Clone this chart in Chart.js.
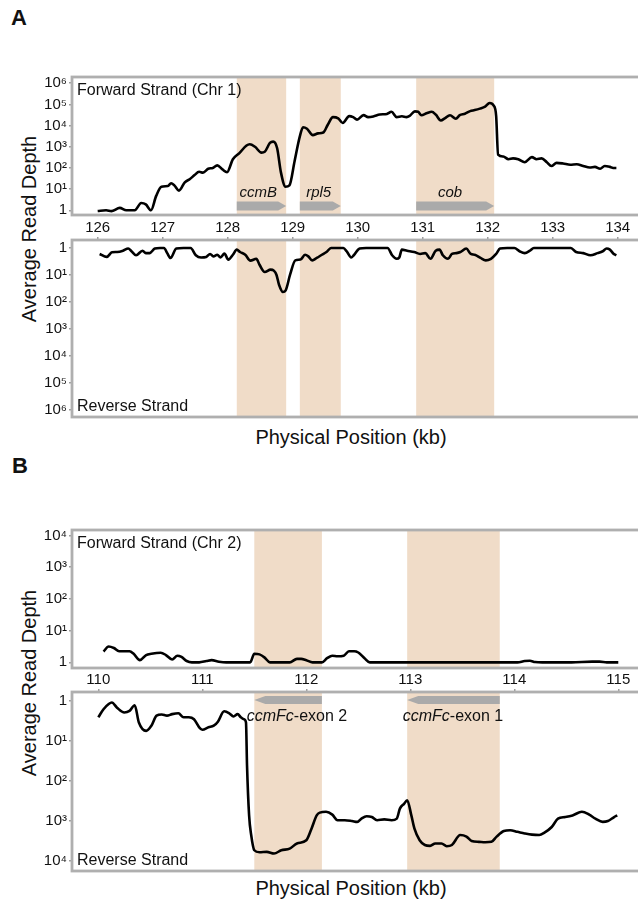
<!DOCTYPE html>
<html>
<head>
<meta charset="utf-8">
<script src="https://cdn.jsdelivr.net/npm/chart.js@4.4.1/dist/chart.umd.min.js"></script>
<style>
  html, body { margin: 0; padding: 0; background: #fff; }
  body { width: 638px; height: 903px; position: relative; overflow: hidden;
         font-family: "Liberation Sans", Arial, Helvetica, sans-serif; color: #111; }
  canvas { position: absolute; left: 0; }
  .letter { position: absolute; font-weight: bold; font-size: 22px; line-height: 22px; }
  .title { position: absolute; font-size: 20px; line-height: 20px; white-space: nowrap;
           transform: translate(-50%, -50%); }
  .title.vert { transform: translate(-50%, -50%) rotate(-90deg); }
</style>
</head>
<body>
<div class="letter" style="left:11px;top:7px">A</div>
<div class="letter" style="left:12px;top:455px">B</div>
<div class="title vert" style="left:29px;top:229px">Average Read Depth</div>
<div class="title vert" style="left:29px;top:683px">Average Read Depth</div>
<div class="title" style="left:351px;top:437px">Physical Position (kb)</div>
<div class="title" style="left:351px;top:888px">Physical Position (kb)</div>

<canvas id="fwdA" width="660" height="215" style="top:20px"></canvas>
<canvas id="revA" width="660" height="240" style="top:200px"></canvas>
<canvas id="fwdB" width="660" height="220" style="top:470px"></canvas>
<canvas id="revB" width="660" height="243" style="top:652px"></canvas>

<script>
// ---- Chr 1 window (126-134 kb) ----
const kbFwdA = [126.00, 126.13, 126.21, 126.34, 126.44, 126.57, 126.67, 126.74, 126.82, 126.90,
  126.98, 127.08, 127.13, 127.18, 127.25, 127.34, 127.42, 127.49, 127.56, 127.62,
  127.70, 127.77, 127.84, 127.92, 127.99, 128.08, 128.18, 128.29, 128.34, 128.42,
  128.52, 128.57, 128.65, 128.70, 128.76, 128.82, 128.89, 128.95, 129.03, 129.11,
  129.16, 129.22, 129.31, 129.39, 129.47, 129.54, 129.62, 129.70, 129.77, 129.87,
  129.93, 129.99, 130.09, 130.16, 130.24, 130.34, 130.45, 130.52, 130.60, 130.68,
  130.75, 130.80, 130.88, 130.93, 130.98, 131.06, 131.14, 131.20, 131.28, 131.34,
  131.42, 131.51, 131.57, 131.65, 131.73, 131.80, 131.88, 131.96, 132.03, 132.09,
  132.13, 132.16, 132.24, 132.32, 132.39, 132.47, 132.57, 132.68, 132.75, 132.83,
  132.91, 132.98, 133.06, 133.16, 133.27, 133.37, 133.47, 133.57, 133.65, 133.73,
  133.80, 133.88, 133.93, 133.98];
const depthFwdA = [0.93, 1.0, 0.91, 1.3, 1.0, 1.0, 2.2, 1.9, 1.0, 4.8,
  13, 14, 19, 15, 8.5, 21, 30, 46, 66, 60,
  91, 100, 132, 85, 63, 257, 500, 1150, 1320, 1000,
  525, 575, 1510, 1740, 870, 60, 13, 15, 214, 3090,
  8300, 7100, 3550, 4270, 4680, 11000, 25100, 21900, 13200, 28000,
  25100, 19000, 31000, 25100, 26900, 33100, 35500, 44700, 25100, 27500,
  25100, 28800, 46800, 44700, 30900, 38000, 44700, 33100, 17400, 21900,
  30900, 20900, 30900, 36300, 47900, 53700, 63100, 77600, 117000, 89000,
  28800, 427, 347, 257, 282, 257, 186, 324, 257, 282,
  186, 123, 174, 162, 141, 148, 123, 105, 112, 91,
  123, 112, 100, 100];

const kbRevA = [126.03, 126.14, 126.22, 126.30, 126.39, 126.47, 126.52, 126.59, 126.69, 126.74,
  126.80, 126.88, 126.96, 127.02, 127.07, 127.12, 127.21, 127.32, 127.43, 127.51,
  127.59, 127.67, 127.73, 127.78, 127.84, 127.89, 127.95, 128.01, 128.08, 128.14,
  128.19, 128.27, 128.35, 128.44, 128.49, 128.57, 128.66, 128.71, 128.75, 128.79,
  128.85, 128.89, 128.96, 129.04, 129.12, 129.19, 129.24, 129.30, 129.37, 129.45,
  129.52, 129.59, 129.67, 129.78, 129.83, 129.90, 129.94, 130.03, 130.13, 130.27,
  130.38, 130.46, 130.53, 130.60, 130.64, 130.68, 130.76, 130.87, 130.96, 131.04,
  131.12, 131.20, 131.26, 131.31, 131.39, 131.45, 131.52, 131.58, 131.67, 131.74,
  131.80, 131.89, 131.97, 132.05, 132.13, 132.19, 132.30, 132.41, 132.49, 132.57,
  132.65, 132.71, 132.84, 132.98, 133.17, 133.28, 133.36, 133.47, 133.58, 133.69,
  133.77, 133.83, 133.88, 133.94, 133.98];
const depthRevA = [1.66, 2.14, 1.45, 1.41, 1.26, 1.05, 1.32, 1.86, 1.26, 1.55,
  1.55, 1.05, 1, 1, 1.55, 2.34, 1.05, 1, 1, 1.86,
  2.24, 2.14, 1.66, 2.04, 1.78, 2.24, 1.62, 2.69, 1.78, 1.15,
  1.41, 1.78, 2.95, 2.51, 4.17, 7.76, 6.31, 6.92, 9.77, 22.9,
  42.7, 38.0, 9.77, 2.88, 2.69, 1.78, 2.04, 2.88, 2.34, 1.78,
  1.41, 1, 1, 1, 1.32, 2.24, 1.86, 1.05, 1, 1,
  1, 1, 1.86, 2.51, 2.24, 1.15, 1.26, 1.41, 1.66, 1.55,
  2.51, 1.26, 1.15, 1.86, 2.51, 1.66, 1.55, 1.41, 1.05, 1.66,
  1.78, 2.34, 2.88, 2.51, 1.66, 1.05, 1, 1, 1.32, 1.55,
  1.26, 1, 1, 1, 1, 1, 1.41, 1.55, 1.86, 1.55,
  1.32, 1.05, 1.15, 1.66, 1.86];

const kbTicksA = [126, 127, 128, 129, 130, 131, 132, 133, 134];
const decadesA = [1, 10, 100, 1e3, 1e4, 1e5, 1e6];
const genesA = ['ccmB', 'rpl5', 'cob'];
const geneStartA = [128.14, 129.11, 130.90];
const geneEndA = [128.90, 129.74, 132.10];
const geneLabelA = [128.47, 129.40, 131.42];

// ---- Chr 2 window (110-115 kb) ----
const kbFwdB = [110.05, 110.10, 110.15, 110.20, 110.25, 110.30, 110.34, 110.40, 110.46, 110.51,
  110.60, 110.65, 110.71, 110.76, 110.80, 110.85, 110.90, 110.97, 111.04, 111.09,
  111.16, 111.23, 111.33, 111.46, 111.50, 111.55, 111.60, 111.65, 111.72, 111.84,
  111.91, 111.95, 112.00, 112.06, 112.15, 112.20, 112.25, 112.30, 112.36, 112.41,
  112.46, 112.50, 112.56, 112.61, 113.00, 113.50, 114.03, 114.10, 114.15, 114.20,
  114.27, 114.55, 114.75, 114.82, 114.89, 115.00];
const depthFwdB = [2.19, 3.16, 2.82, 2.24, 2.24, 2.24, 1.86, 1.17, 1.70, 1.86,
  2.0, 1.70, 1.23, 1.62, 1.48, 1.10, 1, 1, 1.10, 1.17,
  1.05, 1, 1, 1, 1.86, 1.78, 1.41, 1, 1, 1,
  1.29, 1.29, 1.17, 1, 1, 1.35, 1.62, 1.55, 1.62, 2.24,
  2.24, 2.04, 1.35, 1, 1, 1, 1, 1.10, 1.12, 1.02,
  1, 1, 1.05, 1.05, 1, 1];

const kbRevB = [110.00, 110.05, 110.10, 110.13, 110.18, 110.25, 110.30, 110.35, 110.39, 110.46,
  110.51, 110.56, 110.61, 110.66, 110.71, 110.77, 110.82, 110.87, 110.92, 110.97,
  111.00, 111.06, 111.11, 111.15, 111.21, 111.26, 111.30, 111.34, 111.37, 111.40,
  111.42, 111.43, 111.45, 111.47, 111.50, 111.55, 111.62, 111.69, 111.76, 111.84,
  111.91, 112.00, 112.05, 112.10, 112.13, 112.19, 112.25, 112.30, 112.37, 112.44,
  112.49, 112.53, 112.58, 112.63, 112.68, 112.75, 112.82, 112.87, 112.90, 112.94,
  112.97, 113.01, 113.04, 113.09, 113.14, 113.19, 113.24, 113.30, 113.35, 113.40,
  113.48, 113.54, 113.59, 113.66, 113.72, 113.78, 113.83, 113.90, 113.96, 114.03,
  114.10, 114.17, 114.24, 114.29, 114.36, 114.42, 114.49, 114.56, 114.65, 114.72,
  114.78, 114.85, 114.90, 114.96, 114.99];
const depthRevB = [2.57, 1.62, 1.20, 1.10, 1.48, 1.95, 1.78, 1.29, 3.47, 5.62,
  4.17, 2.34, 2.19, 2.34, 2.14, 2.04, 2.57, 2.57, 2.88, 4.57,
  5.25, 4.57, 4.17, 3.31, 1.82, 2.04, 2.45, 2.14, 2.57, 2.88,
  3.47, 40.7, 724, 2240, 5370, 6030, 5890, 6460, 5370, 4900,
  3630, 3020, 1550, 724, 617, 589, 692, 955, 955, 1000,
  1050, 871, 759, 794, 955, 912, 955, 871, 490, 372,
  302, 724, 1550, 3020, 3980, 4170, 3630, 3630, 4270, 3980,
  2240, 2450, 3160, 3310, 3390, 3310, 2450, 1780, 1700, 1860,
  2040, 2190, 2240, 1950, 1410, 871, 794, 724, 589, 692,
  871, 1050, 1000, 794, 724];

const kbTicksB = [110, 111, 112, 113, 114, 115];
const decadesB = [1, 10, 100, 1e3, 1e4];
const genesB = ['ccmFc-exon 2', 'ccmFc-exon 1'];
const geneStartB = [111.50, 112.97];
const geneEndB = [112.15, 113.86];
const geneLabelB = [111.91, 113.41];

const FONT = '"Liberation Sans", Arial, Helvetica, sans-serif';
const SHADE = '#f0dcc8';
const ARROW = '#aaaaaa';
const FRAME = '#afafaf';
const TICK = '#9c9c9c';
Chart.defaults.font.family = FONT;

const sup = ['\u2070', '\u00b9', '\u00b2', '\u00b3', '\u2074', '\u2075', '\u2076'];
function decadeLabel(v) {
  const p = Math.round(Math.log10(v));
  return p === 0 ? '1' : '10' + sup[p];
}

// gene label: part before the hyphen is italic
function drawGeneName(ctx, name, cx, cy, size) {
  const cut = name.indexOf('-');
  const ital = cut < 0 ? name : name.slice(0, cut);
  const rest = cut < 0 ? '' : name.slice(cut);
  ctx.font = 'italic ' + size + 'px ' + FONT;
  const w1 = ctx.measureText(ital).width;
  ctx.font = size + 'px ' + FONT;
  const w2 = ctx.measureText(rest).width;
  const x = cx - (w1 + w2) / 2;
  ctx.textAlign = 'left';
  ctx.textBaseline = 'middle';
  ctx.font = 'italic ' + size + 'px ' + FONT;
  ctx.fillText(ital, x, cy);
  ctx.font = size + 'px ' + FONT;
  ctx.fillText(rest, x + w1, cy);
}

const trackDecor = {
  id: 'trackDecor',
  beforeDatasetsDraw(chart, args, o) {
    const { ctx, chartArea: a, scales: { x } } = chart;
    ctx.save();
    ctx.fillStyle = SHADE;
    o.starts.forEach((s, i) => {
      const x0 = x.getPixelForValue(s);
      const x1 = x.getPixelForValue(o.ends[i]);
      ctx.fillRect(x0, a.top, x1 - x0, a.bottom - a.top);
    });
    ctx.restore();
  },
  afterDatasetsDraw(chart, args, o) {
    const { ctx, chartArea: a, scales: { x } } = chart;
    ctx.save();
    // strand note
    ctx.fillStyle = '#111';
    ctx.font = '16px ' + FONT;
    ctx.textAlign = 'left';
    ctx.textBaseline = 'middle';
    ctx.fillText(o.note, a.left + 5, o.noteTop ? a.top + 14 : a.bottom - 10);

    // gene arrows
    if (o.arrows) {
      const right = o.arrows === 'right';
      const yc = right ? a.bottom - 9 : a.top + 8;
      const h = right ? 9 : 8;
      const head = right ? 8 : 11;
      o.starts.forEach((s, i) => {
        const x0 = x.getPixelForValue(s);
        const x1 = x.getPixelForValue(o.ends[i]);
        ctx.fillStyle = ARROW;
        ctx.beginPath();
        if (right) {
          ctx.moveTo(x0, yc - h / 2);
          ctx.lineTo(x1 - head, yc - h / 2);
          ctx.lineTo(x1, yc);
          ctx.lineTo(x1 - head, yc + h / 2);
          ctx.lineTo(x0, yc + h / 2);
        } else {
          ctx.moveTo(x1, yc - h / 2);
          ctx.lineTo(x0 + head, yc - h / 2);
          ctx.lineTo(x0, yc);
          ctx.lineTo(x0 + head, yc + h / 2);
          ctx.lineTo(x1, yc + h / 2);
        }
        ctx.closePath();
        ctx.fill();
        ctx.fillStyle = '#111';
        drawGeneName(ctx, o.names[i], x.getPixelForValue(o.labelAt[i]),
                     right ? yc - 13 : yc + 17, o.nameSize);
      });
    }

    // panel frame
    ctx.strokeStyle = FRAME;
    ctx.lineWidth = 2.8;
    ctx.strokeRect(a.left, a.top, a.right - a.left, a.bottom - a.top);
    ctx.restore();
  }
};

function track(id, cfg) {
  return new Chart(document.getElementById(id), {
    type: 'line',
    data: {
      datasets: [{
        data: cfg.kb.map((k, i) => ({ x: k, y: cfg.depth[i] })),
        borderColor: '#000',
        borderWidth: 2.6,
        pointRadius: 0,
        cubicInterpolationMode: 'monotone',
        fill: false
      }]
    },
    options: {
      responsive: false,
      animation: false,
      events: [],
      layout: { padding: cfg.padding },
      plugins: {
        legend: { display: false },
        tooltip: { enabled: false },
        trackDecor: cfg.decor
      },
      scales: {
        x: {
          type: 'linear',
          position: 'top',
          display: cfg.showX,
          min: cfg.xMin,
          max: cfg.xMax,
          afterBuildTicks: s => { s.ticks = cfg.xTicks.map(v => ({ value: v })); },
          afterFit: s => { s.height = 40; },
          border: { display: false },
          grid: { drawOnChartArea: false, tickLength: 3, color: TICK, lineWidth: 1.5 },
          ticks: { padding: 0, color: '#111', font: { size: 15 }, maxRotation: 0, autoSkip: false,
                   callback: v => String(v) }
        },
        y: {
          type: 'logarithmic',
          reverse: cfg.reverse,
          min: cfg.yMin,
          max: cfg.yMax,
          afterBuildTicks: s => { s.ticks = cfg.yTicks.map(v => ({ value: v })); },
          afterFit: s => { s.width = 72; },
          border: { display: false },
          grid: { drawOnChartArea: false, tickLength: 3, color: TICK, lineWidth: 1.5 },
          ticks: { padding: 2, color: '#111', font: { size: 15 }, autoSkip: false, callback: decadeLabel }
        }
      }
    },
    plugins: [trackDecor]
  });
}

track('fwdA', {
  kb: kbFwdA, depth: depthFwdA, showX: false, reverse: false,
  xMin: 125.605, xMax: 134.374, xTicks: kbTicksA,
  yMin: 0.603, yMax: 1.96e6, yTicks: decadesA,
  padding: { top: 17, bottom: 20, left: 0, right: 18 },
  decor: { starts: geneStartA, ends: geneEndA, names: genesA, labelAt: geneLabelA,
           arrows: 'right', nameSize: 15, note: 'Forward Strand (Chr 1)', noteTop: true }
});
track('revA', {
  kb: kbRevA, depth: depthRevA, showX: true, reverse: true,
  xMin: 125.605, xMax: 134.374, xTicks: kbTicksA,
  yMin: 0.506, yMax: 1.82e6, yTicks: decadesA,
  padding: { top: 0, bottom: 23, left: 0, right: 18 },
  decor: { starts: geneStartA, ends: geneEndA, arrows: null,
           note: 'Reverse Strand', noteTop: false }
});
track('fwdB', {
  kb: kbFwdB, depth: depthFwdB, showX: false, reverse: false,
  xMin: 109.747, xMax: 115.228, xTicks: kbTicksB,
  yMin: 0.663, yMax: 14830, yTicks: decadesB,
  padding: { top: 20, bottom: 22, left: 0, right: 18 },
  decor: { starts: geneStartB, ends: geneEndB, arrows: null,
           note: 'Forward Strand (Chr 2)', noteTop: true }
});
track('revB', {
  kb: kbRevB, depth: depthRevB, showX: true, reverse: true,
  xMin: 109.747, xMax: 115.228, xTicks: kbTicksB,
  yMin: 0.633, yMax: 17700, yTicks: decadesB,
  padding: { top: 0, bottom: 24, left: 0, right: 18 },
  decor: { starts: geneStartB, ends: geneEndB, names: genesB, labelAt: geneLabelB,
           arrows: 'left', nameSize: 16, note: 'Reverse Strand', noteTop: false }
});
</script>
</body>
</html>
